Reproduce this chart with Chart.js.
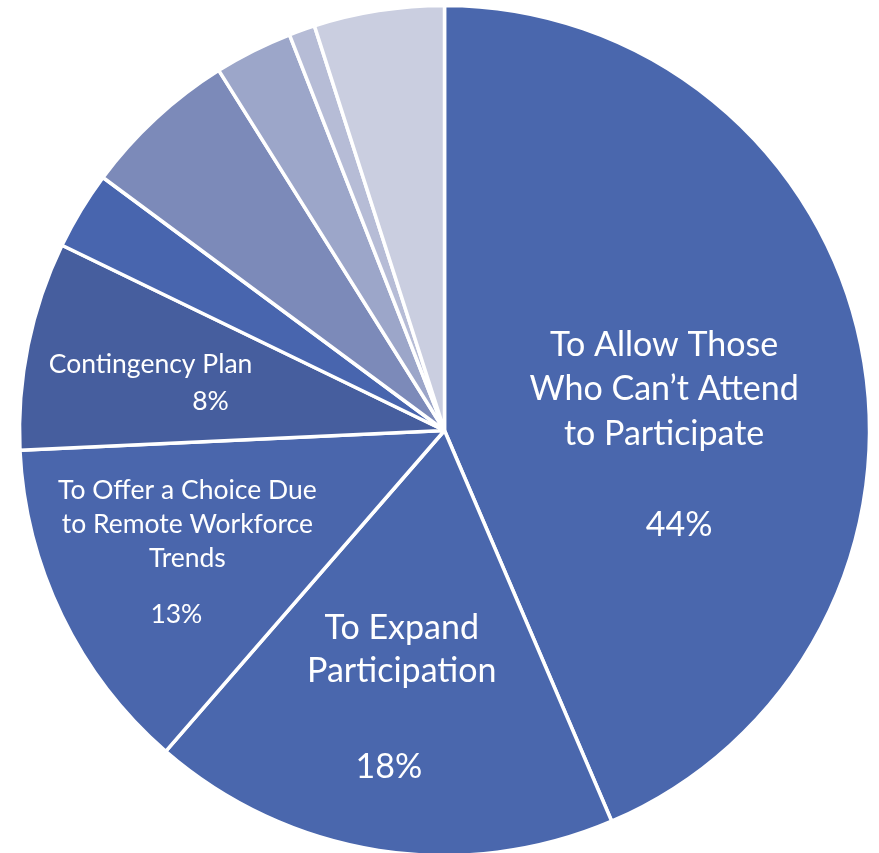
<!DOCTYPE html>
<html>
<head>
<meta charset="utf-8">
<script src="https://cdn.jsdelivr.net/npm/chart.js@4/dist/chart.umd.min.js"></script>
<style>
  html, body { margin: 0; padding: 0; background: #ffffff; }
  #wrap { position: relative; width: 879px; height: 853px; }
</style>
</head>
<body>
<div id="wrap"><canvas id="pie"></canvas></div>
<script>
// Reasons for offering a virtual option (share of responses, %)
const categories = [
  'To Allow Those Who Can’t Attend to Participate',
  'To Expand Participation',
  'To Offer a Choice Due to Remote Workforce Trends',
  'Contingency Plan',
  'Reason E',
  'Reason F',
  'Reason G',
  'Reason H',
  'Reason I'
];
const values = [44, 18, 13, 8, 3, 6, 3, 1, 5];

// Wrapped label text for the slices that carry a label
const labelLines = [
  ['To Allow Those', 'Who Can’t Attend', 'to Participate'],
  ['To Expand', 'Participation'],
  ['To Offer a Choice Due', 'to Remote Workforce', 'Trends'],
  ['Contingency Plan'],
  [], [], [], [], []
];

const sliceColors = [
  '#4A67AD', '#4A67AD', '#4A66AC', '#465E9E', '#4865AE',
  '#7C8AB9', '#9CA6C9', '#B6BCD6', '#CACEE0'
];

// Label placement: anchor in polar terms relative to each arc's mid-angle,
// then per-line pixel offsets from that anchor.
const labelLayout = [
  { frac: 0.526, dAngle: 0.85, size: 34,   lineDy: [-44, 0, 45], pct: [15, 136] },
  { frac: 0.475, dAngle: 3.3,  size: 34,   lineDy: [0, 43],      pct: [-13, 139] },
  { frac: 0.644, dAngle: 5.8,  size: 26.5, lineDy: [-34, 0, 34], pct: [-11, 90] },
  { frac: 0.709, dAngle: 1.1,  size: 26.5, lineDy: [0],          pct: [60, 37] }
];

const sliceLabels = {
  id: 'sliceLabels',
  afterDatasetsDraw(chart) {
    const ctx = chart.ctx;
    const meta = chart.getDatasetMeta(0);
    ctx.save();
    ctx.fillStyle = '#ffffff';
    ctx.textAlign = 'center';
    ctx.textBaseline = 'middle';
    labelLayout.forEach((lay, i) => {
      const arc = meta.data[i];
      const mid = (arc.startAngle + arc.endAngle) / 2 + lay.dAngle * Math.PI / 180;
      const ax = arc.x + Math.cos(mid) * arc.outerRadius * lay.frac;
      const ay = arc.y + Math.sin(mid) * arc.outerRadius * lay.frac;
      ctx.font = lay.size + 'px Lato, "Open Sans", sans-serif';
      labelLines[i].forEach((line, j) => {
        ctx.fillText(line, ax, ay + lay.lineDy[j]);
      });
      ctx.fillText(values[i] + '%', ax + lay.pct[0], ay + lay.pct[1]);
    });
    ctx.restore();
  }
};

new Chart(document.getElementById('pie'), {
  type: 'pie',
  data: {
    labels: categories,
    datasets: [{
      data: values,
      backgroundColor: sliceColors,
      borderColor: '#ffffff',
      borderWidth: 3.5,
      radius: 425
    }]
  },
  options: {
    responsive: true,
    maintainAspectRatio: false,
    animation: false,
    layout: { padding: { left: 10, right: 0, top: 8, bottom: 0 } },
    plugins: {
      legend: { display: false },
      tooltip: { enabled: false }
    }
  },
  plugins: [sliceLabels]
});
</script>
</body>
</html>
